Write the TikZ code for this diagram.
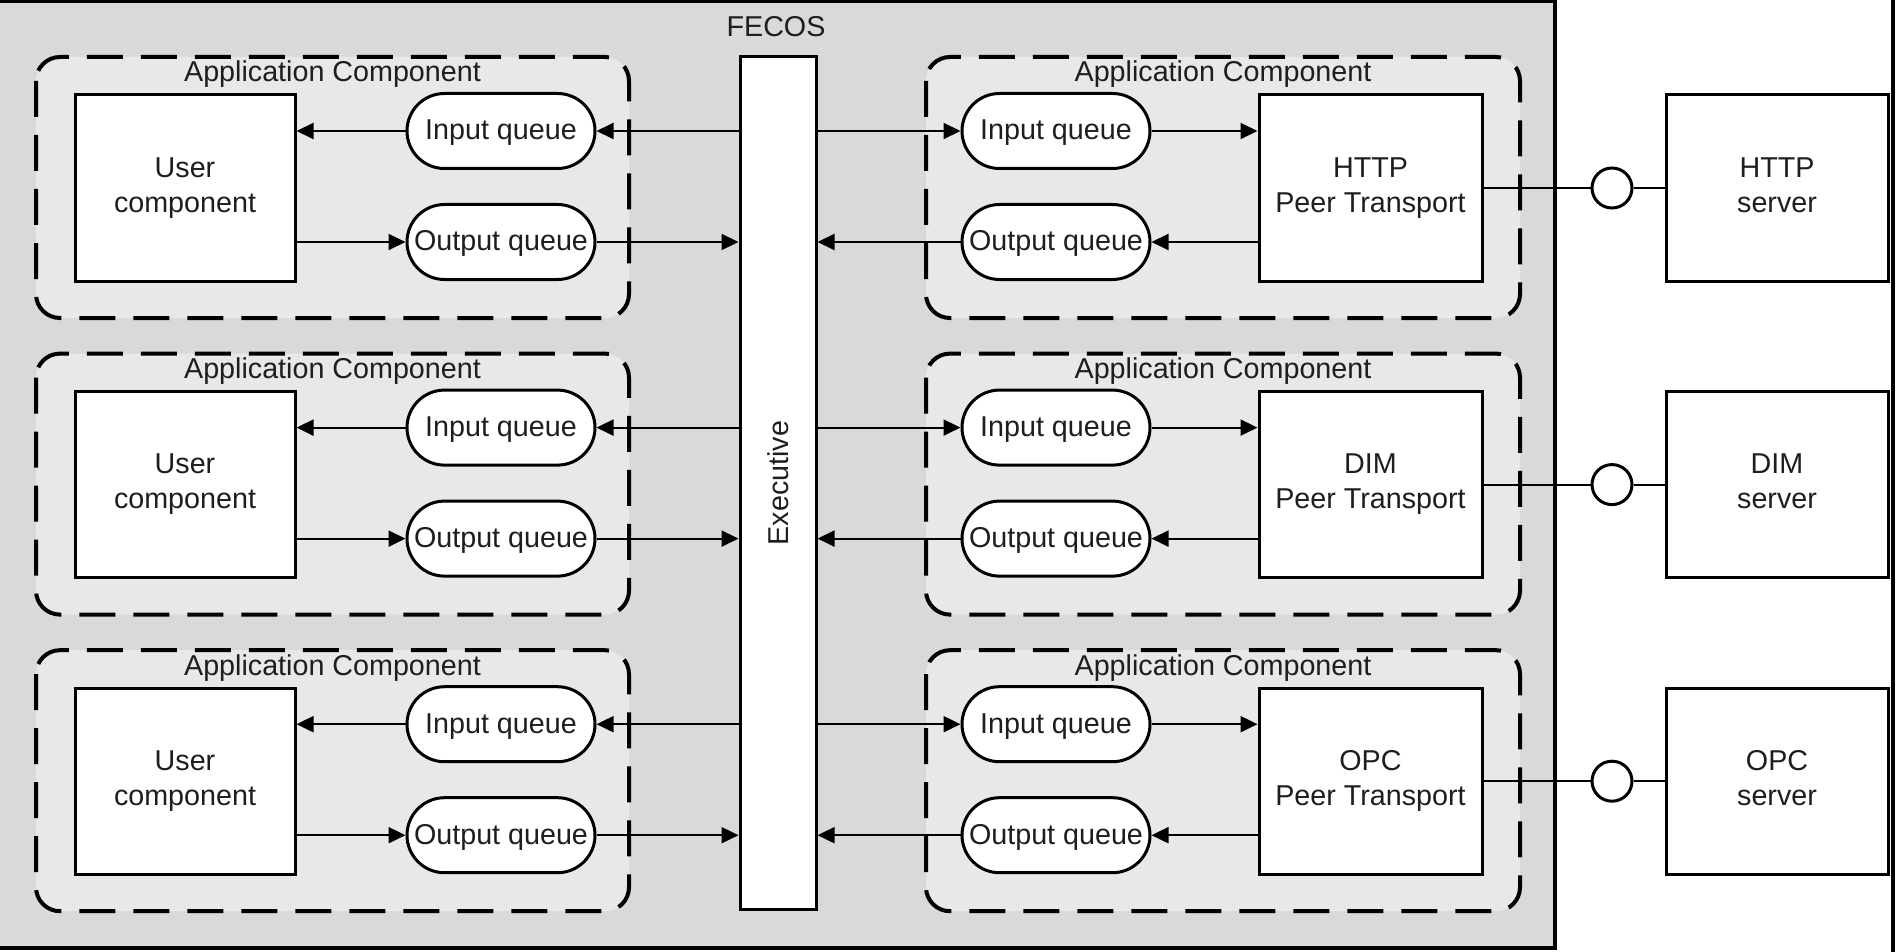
\documentclass[tikz,border=0pt]{standalone}
\usepackage{fontspec}
\setmainfont{Liberation Sans}
\usetikzlibrary{arrows.meta,shapes.misc}
\definecolor{fecosgray}{RGB}{217,217,217}
\definecolor{appgray}{RGB}{232,232,232}
\definecolor{inkgray}{RGB}{30,30,30}
\newcommand{\dfont}{\fontsize{28.7}{35}\selectfont}
\begin{document}
\begin{tikzpicture}[x=1pt,y=-1pt,
  font=\dfont, text=inkgray,
  boxnode/.style={draw, line width=3pt, fill=white, minimum width=220pt, minimum height=186pt, inner sep=0pt, align=center},
  queue/.style={draw, rounded rectangle, line width=3pt, fill=white, minimum width=188pt, minimum height=75pt, inner sep=0pt, text height=21pt, text depth=3pt},
  appcomp/.style={draw, line width=4pt, dash pattern=on 36pt off 18pt, rounded corners=24pt, fill=appgray},
  arr/.style={line width=2pt, -{Triangle[length=17pt,width=16pt]}},
  link/.style={line width=2pt},
  plug/.style={draw, circle, line width=3pt, fill=white, minimum size=40pt, inner sep=0pt},
  exbox/.style={draw, line width=3pt, fill=white, minimum width=76pt, minimum height=852pt, inner sep=0pt}
]
\path[fill=white, use as bounding box] (0,0) rectangle (1898,952);
% FECOS container
\draw[line width=3.5pt, fill=fecosgray] (-10,1.75) rectangle (1555,948);
\node[anchor=base] (fecoslbl) at (776,37) {FECOS};
% right frame line
\draw[line width=4pt] (1893,-5) -- (1893,960);
% Executive
\node[exbox, label={[rotate=90]center:Executive}] (ex) at (778,483) {};
\foreach \r/\nm in {0/HTTP,1/DIM,2/OPC}{
  \pgfmathsetmacro{\dy}{\r*296.6}
  \draw[appcomp] (36,57+\dy) rectangle (629,318+\dy);
  \draw[appcomp] (926,57+\dy) rectangle (1520,318+\dy);
  \node[anchor=base] (lacl\r) at (332.5,82+\dy) {Application Component};
  \node[anchor=base] (racl\r) at (1223,82+\dy) {Application Component};
  \node[boxnode] (uc\r) at (185,188+\dy) {User\\component};
  \node[queue] (liq\r) at (501,131+\dy) {Input queue};
  \node[queue] (loq\r) at (501,242+\dy) {Output queue};
  \node[queue] (riq\r) at (1056,131+\dy) {Input queue};
  \node[queue] (roq\r) at (1056,242+\dy) {Output queue};
  \node[boxnode, minimum width=223pt] (tr\r) at (1370.5,188+\dy) {\nm\\Peer Transport};
  \node[plug] (c\r) at (1612,188+\dy) {};
  \node[boxnode, minimum width=222pt] (srv\r) at (1777,188+\dy) {\nm\\server\vphantom{p}};
  % left side
  \draw[arr] (liq\r.east -| ex.west) -- (liq\r.east);
  \draw[arr] (liq\r.west) -- (liq\r.west -| uc\r.east);
  \draw[arr] (loq\r.west -| uc\r.east) -- (loq\r.west);
  \draw[arr] (loq\r.east) -- (loq\r.east -| ex.west);
  % right side
  \draw[arr] (riq\r.west -| ex.east) -- (riq\r.west);
  \draw[arr] (riq\r.east) -- (riq\r.east -| tr\r.west);
  \draw[arr] (roq\r.east -| tr\r.west) -- (roq\r.east);
  \draw[arr] (roq\r.west) -- (roq\r.west -| ex.east);
  % server link
  \draw[link] (tr\r.east) -- (c\r.west);
  \draw[link] (c\r.east) -- (srv\r.west);
}
\end{tikzpicture}
\end{document}
